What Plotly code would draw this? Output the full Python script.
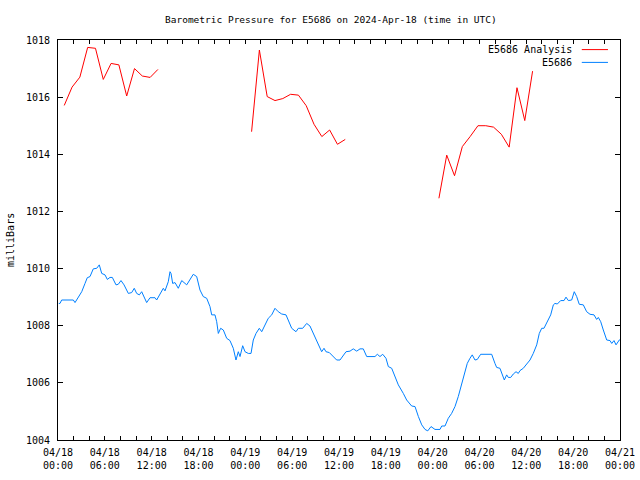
import pandas as pd
import plotly.graph_objects as go

# ---- data ----
start = pd.Timestamp("2024-04-18 00:00")

analysis_hours = [0.8, 1.8, 2.8, 3.8, 4.8, 5.8, 6.8, 7.8, 8.8, 9.8, 10.8, 11.8, 12.8, None,
                  24.8, 25.8, 26.8, 27.8, 28.8, 29.8, 30.8, 31.8, 32.8, 33.8, 34.8, 35.8, 36.8, None,
                  48.8, 49.8, 50.8, 51.8, 52.8, 53.8, 54.8, 55.8, 56.8, 57.8, 58.8, 59.8, 60.8]
analysis_mb = [1015.71, 1016.35, 1016.70, 1017.74, 1017.71, 1016.62, 1017.18, 1017.13, 1016.04, 1017.00, 1016.74, 1016.69, 1016.97, None,
               1014.79, 1017.65, 1016.02, 1015.88, 1015.95, 1016.10, 1016.07, 1015.70, 1015.05, 1014.62, 1014.85, 1014.35, 1014.52, None,
               1012.46, 1013.97, 1013.25, 1014.27, 1014.62, 1015.00, 1015.00, 1014.95, 1014.70, 1014.25, 1016.33, 1015.18, 1016.91]

station_hours = [0.1, 0.26, 0.47, 1.96, 2.18, 2.60, 3.04, 3.46, 3.75, 4.10, 4.52, 4.96, 5.29, 5.60, 6.02, 6.32, 6.66, 6.96,
                 7.43, 7.72, 8.07, 8.46, 9.01, 9.44, 9.77, 10.08, 10.42, 10.72, 11.36, 11.79, 12.43, 12.64, 13.07, 13.49,
                 13.71, 14.13, 14.35, 14.48, 14.69, 14.99, 15.41, 15.85, 16.49, 16.91, 17.33, 17.77, 18.19, 18.61, 19.05,
                 19.47, 19.69, 20.11, 20.33, 20.54, 20.84, 21.18, 21.61, 22.03, 22.46, 22.80, 23.10, 23.32, 23.66, 23.96,
                 24.38, 24.73, 25.02, 25.37, 25.79, 26.10, 26.52, 26.94, 27.38, 27.80, 28.22, 28.66, 29.21, 29.63, 29.94,
                 30.49, 30.79, 31.35, 31.86, 32.28, 32.71, 33.14, 33.57, 33.78, 34.08, 34.33, 34.76, 35.27, 35.70, 36.13,
                 36.47, 36.90, 37.41, 37.83, 38.27, 38.69, 39.11, 39.55, 40.61, 40.91, 41.25, 41.60, 42.02, 42.32, 42.75,
                 43.17, 43.60, 44.24, 44.67, 45.31, 45.74, 46.17, 46.60, 47.02, 47.37, 47.79, 48.30, 48.94, 49.16, 49.58,
                 50.00, 50.43, 50.86, 51.28, 51.71, 52.14, 52.43, 52.78, 53.07, 53.42, 53.72, 54.15, 55.56, 55.98, 56.20,
                 56.62, 56.92, 57.18, 57.48, 57.69, 58.00, 58.33, 58.68, 58.97, 59.19, 59.61, 60.05, 60.47, 60.89, 61.33,
                 61.66, 61.97, 62.26, 62.69, 63.12, 63.46, 63.67, 63.97, 64.40, 64.83, 65.08, 65.38, 65.81, 66.14, 66.45,
                 66.78, 67.30, 67.73, 68.16, 68.67, 69.01, 69.22, 69.53, 69.86, 70.30, 70.72, 70.94, 71.23, 71.49, 71.91,
                 72.0]
station_mb = [1008.78, 1008.78, 1008.90, 1008.90, 1008.81, 1009.02, 1009.19, 1009.48, 1009.68, 1009.72, 1009.99, 1010.01,
              1010.13, 1009.83, 1009.78, 1009.62, 1009.69, 1009.69, 1009.43, 1009.45, 1009.58, 1009.43, 1009.13, 1009.16,
              1009.31, 1009.13, 1009.08, 1009.19, 1008.81, 1008.98, 1008.98, 1008.90, 1009.13, 1009.31, 1009.22, 1009.54,
              1009.89, 1009.83, 1009.48, 1009.51, 1009.31, 1009.58, 1009.43, 1009.62, 1009.80, 1009.72, 1009.25, 1009.02,
              1008.96, 1008.67, 1008.38, 1008.38, 1008.14, 1007.73, 1007.91, 1007.85, 1007.56, 1007.48, 1007.21, 1006.80,
              1007.09, 1006.92, 1007.30, 1007.09, 1007.03, 1007.03, 1007.50, 1007.73, 1007.91, 1007.79, 1008.03, 1008.26,
              1008.38, 1008.61, 1008.49, 1008.41, 1008.38, 1008.08, 1007.91, 1007.79, 1007.91, 1007.91, 1008.08, 1007.99,
              1007.73, 1007.50, 1007.27, 1007.09, 1007.21, 1007.09, 1007.06, 1006.92, 1006.80, 1006.80, 1006.92, 1007.09,
              1007.11, 1007.19, 1007.11, 1007.19, 1007.19, 1006.92, 1006.92, 1007.00, 1006.92, 1007.00, 1006.86, 1006.57,
              1006.51, 1006.22, 1005.93, 1005.63, 1005.40, 1005.19, 1005.17, 1004.82, 1004.53, 1004.37, 1004.32, 1004.47,
              1004.37, 1004.37, 1004.49, 1004.49, 1004.76, 1004.93, 1005.17, 1005.52, 1005.93, 1006.33, 1006.68, 1006.86,
              1006.98, 1006.80, 1006.82, 1007.00, 1007.00, 1006.68, 1006.54, 1006.51, 1006.28, 1006.10, 1006.28, 1006.19,
              1006.19, 1006.31, 1006.39, 1006.33, 1006.43, 1006.51, 1006.66, 1006.80, 1007.03, 1007.33, 1007.73, 1007.91,
              1007.91, 1008.14, 1008.38, 1008.73, 1008.78, 1008.76, 1008.88, 1008.88, 1009.00, 1008.88, 1008.90, 1009.19,
              1009.02, 1008.75, 1008.73, 1008.49, 1008.40, 1008.38, 1008.22, 1008.29, 1008.14, 1007.85, 1007.50, 1007.48,
              1007.38, 1007.48, 1007.33, 1007.50, 1007.52]

y_ticks = [1004, 1006, 1008, 1010, 1012, 1014, 1016, 1018]
title_text = "Barometric Pressure for E5686 on 2024-Apr-18 (time in UTC)"
legend_names = ["E5686 Analysis", "E5686"]
colors = ["#ff0000", "#0080ff"]


def to_time(hours):
    return [None if h is None else start + pd.Timedelta(hours=h) for h in hours]


FONT = "DejaVu Sans Mono"

fig = go.Figure()
fig.add_trace(go.Scatter(x=to_time(analysis_hours), y=analysis_mb, mode="lines",
                         line=dict(color=colors[0], width=1), name=legend_names[0],
                         connectgaps=False, showlegend=False))
fig.add_trace(go.Scatter(x=to_time(station_hours), y=station_mb, mode="lines",
                         line=dict(color=colors[1], width=1), name=legend_names[1],
                         showlegend=False))

# manual gnuplot-style legend (text right, sample line on right)
for i, (name, col) in enumerate(zip(legend_names, colors)):
    ypos = 0.976 - i * 0.032
    fig.add_annotation(x=0.918, y=ypos, xref="paper", yref="paper", text=name,
                       showarrow=False, xanchor="right", yanchor="middle",
                       font=dict(family=FONT, size=10, color="black"))
    fig.add_shape(type="line", xref="paper", yref="paper", x0=0.932, x1=0.9786,
                  y0=ypos, y1=ypos, line=dict(color=col, width=1))

fig.add_annotation(x=0.486, y=1.0525, xref="paper", yref="paper", text=title_text,
                   showarrow=False, xanchor="center", yanchor="middle",
                   font=dict(family=FONT, size=9.5, color="black"))
fig.add_annotation(x=-0.0854, y=0.5, xref="paper", yref="paper", text="milliBars",
                   showarrow=False, textangle=-90, xanchor="center", yanchor="middle",
                   font=dict(family=FONT, size=10, color="black"))

fig.update_layout(
    width=640, height=480,
    margin=dict(l=58, r=20, t=40, b=40, autoexpand=False),
    paper_bgcolor="white", plot_bgcolor="white",
    font=dict(family=FONT, size=10, color="black"),
    xaxis=dict(
        type="date", automargin=False,
        range=[start, start + pd.Timedelta(hours=72)],
        dtick=6 * 3600 * 1000, tick0=start,
        tickformat="%m/%d<br>%H:%M",
        ticks="inside", ticklen=4, tickcolor="black", tickwidth=1,
        minor=dict(dtick=2 * 3600 * 1000, ticks="inside", ticklen=4, tickcolor="black", showgrid=False),
        showline=True, linecolor="black", linewidth=1, mirror="allticks",
        showgrid=False, zeroline=False, ticklabelstandoff=3,
        tickfont=dict(family=FONT, size=10, color="black"),
    ),
    yaxis=dict(
        automargin=False,
        range=[1004, 1018], tickvals=y_ticks,
        ticks="inside", ticklen=5, tickcolor="black", tickwidth=1,
        showline=True, linecolor="black", linewidth=1, mirror="allticks",
        showgrid=False, zeroline=False, ticklabelstandoff=5,
        tickfont=dict(family=FONT, size=10, color="black"),
    ),
)

# remove the default page margin so the 640x480 figure fills the window exactly
fig.write_html("out.html", config={"displayModeBar": False},
               post_script="document.body.style.margin='0';document.body.style.overflow='hidden';")
